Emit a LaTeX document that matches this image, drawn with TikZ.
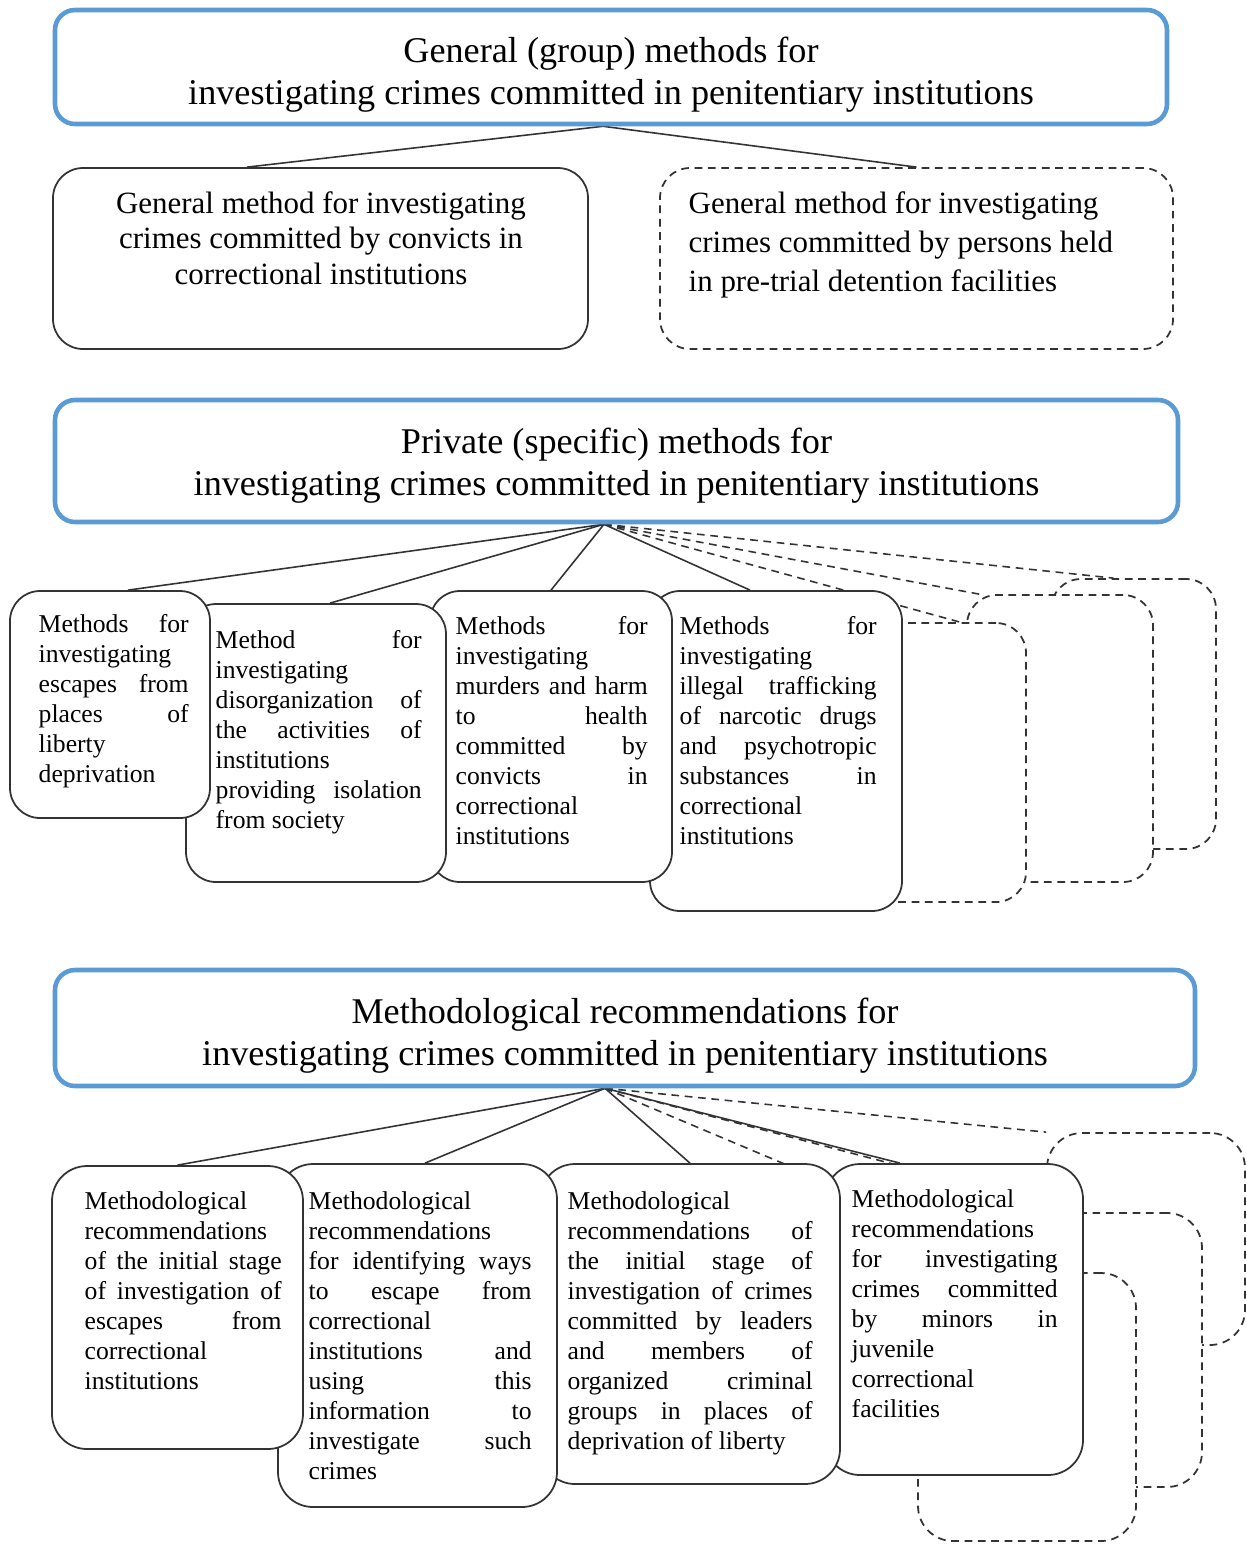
\documentclass[tikz,border=0pt]{standalone}
\usepackage{fontspec}
\setmainfont{Liberation Serif}
\definecolor{hblue}{HTML}{5B9BD5}
\definecolor{ink}{HTML}{333333}
\usetikzlibrary{positioning, backgrounds}
\hyphenpenalty=10000
\exhyphenpenalty=10000
\tolerance=9999

\begin{document}
\begin{tikzpicture}[
  hbox/.style={draw=hblue, line width=1.3pt, rounded corners=0.2cm, fill=white, inner sep=0pt},
  htxt/.style={inner sep=0pt, align=center, font=\fontsize{10.3}{12}\selectfont},
  mbox/.style={draw=ink, line width=0.5pt, rounded corners=0.3cm, fill=white, inner sep=0pt},
  dbox/.style={mbox, dash pattern=on 2.2pt off 1.6pt},
  gtxt/.style={inner sep=0pt, font=\fontsize{8.8}{10.1}\selectfont},
  stxt/.style={inner sep=0pt, anchor=north west, align=justify,
               font=\fontsize{7.3}{8.55}\selectfont},
  con/.style={ink, line width=0.45pt},
  dcon/.style={con, dash pattern=on 2.2pt off 1.6pt},
]
\useasboundingbox (0,0) rectangle (12.47,-15.44);

% Level 1: general (group) methods
\node[hbox, minimum width=11.12cm, minimum height=1.14cm] (g0) at (6.11,-0.67) {};
\node[htxt] (g0t) at (6.11,-0.75) {General (group) methods for\\investigating crimes committed in penitentiary institutions};
\node[mbox, minimum width=5.35cm, minimum height=1.81cm] (g1) at (3.205,-2.585) {};
\node[gtxt, anchor=north, align=center] (g1t) at (3.21,-1.91) {General method for investigating\\crimes committed by convicts in\\correctional institutions};
\node[dbox, minimum width=5.13cm, minimum height=1.81cm] (g2) at (9.165,-2.585) {};
\node[gtxt, anchor=north west, align=left, font=\fontsize{8.8}{11.1}\selectfont] (g2t) at (6.88,-1.91) {General method for investigating\\crimes committed by persons held\\in pre-trial detention facilities};

% Level 2: private (specific) methods
\node[hbox, minimum width=11.23cm, minimum height=1.22cm] (p0) at (6.165,-4.61) {};
\node[htxt] (p0t) at (6.165,-4.655) {Private (specific) methods for\\investigating crimes committed in penitentiary institutions};
\node[dbox, minimum width=1.65cm, minimum height=2.70cm] (mC) at (11.335,-7.14) {};
\node[dbox, minimum width=1.86cm, minimum height=2.87cm] (mB) at (10.60,-7.385) {};
\node[dbox, minimum width=1.66cm, minimum height=2.79cm] (mA) at (9.43,-7.625) {};
\node[mbox, minimum width=2.52cm, minimum height=3.20cm] (b4) at (7.76,-7.51) {};
\node[stxt, text width=1.97cm] (b4t) at (6.79,-6.155) {Methods for\linebreak investigating\linebreak illegal trafficking\linebreak of narcotic drugs\linebreak and psychotropic\linebreak substances in\linebreak correctional\linebreak institutions};
\node[mbox, minimum width=2.42cm, minimum height=2.91cm] (b3) at (5.51,-7.365) {};
\node[stxt, text width=1.92cm] (b3t) at (4.55,-6.155) {Methods for\linebreak investigating\linebreak murders and harm\linebreak to health\linebreak committed by\linebreak convicts in\linebreak correctional\linebreak institutions};
\node[mbox, minimum width=2.60cm, minimum height=2.78cm] (b2) at (3.16,-7.43) {};
\node[stxt, text width=2.06cm] (b2t) at (2.15,-6.295) {Method for\linebreak investigating\linebreak disorganization of\linebreak the activities of\linebreak institutions\linebreak providing isolation\linebreak from society};
\node[mbox, minimum width=2.00cm, minimum height=2.27cm] (b1) at (1.10,-7.045) {};
\node[stxt, text width=1.50cm] (b1t) at (0.38,-6.135) {Methods for\linebreak investigating\linebreak escapes from\linebreak places of\linebreak liberty\linebreak deprivation};

% Level 3: methodological recommendations
\node[hbox, minimum width=11.40cm, minimum height=1.16cm] (m0) at (6.25,-10.28) {};
\node[htxt] (m0t) at (6.25,-10.355) {Methodological recommendations for\\investigating crimes committed in penitentiary institutions};
\node[dbox, rounded corners=0.35cm, minimum width=1.98cm, minimum height=2.12cm] (rC) at (11.46,-12.39) {};
\node[dbox, rounded corners=0.35cm, minimum width=2.72cm, minimum height=2.74cm] (rB) at (10.66,-13.50) {};
\node[dbox, rounded corners=0.35cm, minimum width=2.18cm, minimum height=2.68cm] (rA) at (10.27,-14.07) {};
\node[mbox, rounded corners=0.35cm, minimum width=2.58cm, minimum height=3.11cm] (r4) at (9.54,-13.195) {};
\node[stxt, text width=2.06cm] (r4t) at (8.51,-11.885) {Methodological\linebreak recommendations\linebreak for investigating\linebreak crimes committed\linebreak by minors in\linebreak juvenile\linebreak correctional\linebreak facilities};
\node[mbox, rounded corners=0.35cm, minimum width=3.00cm, minimum height=3.20cm] (r3) at (6.90,-13.24) {};
\node[stxt, text width=2.45cm] (r3t) at (5.67,-11.905) {Methodological\linebreak recommendations of\linebreak the initial stage of\linebreak investigation of crimes\linebreak committed by leaders\linebreak and members of\linebreak organized criminal\linebreak groups in places of\linebreak deprivation of liberty};
\node[mbox, rounded corners=0.35cm, minimum width=2.79cm, minimum height=3.43cm] (r2) at (4.175,-13.355) {};
\node[stxt, text width=2.23cm] (r2t) at (3.08,-11.905) {Methodological\linebreak recommendations\linebreak for identifying ways\linebreak to escape from\linebreak correctional\linebreak institutions and\linebreak using this\linebreak information to\linebreak investigate such\linebreak crimes};
\node[mbox, rounded corners=0.35cm, minimum width=2.51cm, minimum height=2.83cm] (r1) at (1.775,-13.075) {};
\node[stxt, text width=1.97cm] (r1t) at (0.84,-11.905) {Methodological\linebreak recommendations\linebreak of the initial stage\linebreak of investigation of\linebreak escapes from\linebreak correctional\linebreak institutions};

% Connectors
\begin{scope}[on background layer]
\coordinate (ga) at ([xshift=-0.08cm]g0.south);
\draw[con] (ga) -- ([xshift=-0.735cm]g1.north);
\draw[con] (ga) -- (g2.north);

\coordinate (pa) at ([xshift=-0.125cm]p0.south);
\draw[con] (pa) -- ([xshift=0.18cm]b1.north);
\draw[con] (pa) -- ([xshift=0.14cm]b2.north);
\draw[con] (pa) -- (b3.north);
\draw[con] (pa) -- ([xshift=-0.26cm]b4.north);
\draw[dcon] (pa) -- ([xshift=0.17cm]mA.north);
\draw[dcon] (pa) -- ([xshift=0.13cm]mB.north west);
\draw[dcon] (pa) -- ([xshift=-0.2cm]mC.north);

\coordinate (ma) at ([xshift=-0.2cm]m0.south);
\draw[con] (ma) -- (r1.north);
\draw[con] (ma) -- ([xshift=0.075cm]r2.north);
\draw[con] (ma) -- (r3.north);
\draw[con] (ma) -- ([xshift=-0.54cm]r4.north);
\draw[dcon] (ma) -- ([xshift=0.14cm]rA.north);
\draw[dcon] (ma) -- ([xshift=0.1cm]rB.north);
\draw[dcon] (ma) -- (rC.north west);
\end{scope}

\end{tikzpicture}
\end{document}
